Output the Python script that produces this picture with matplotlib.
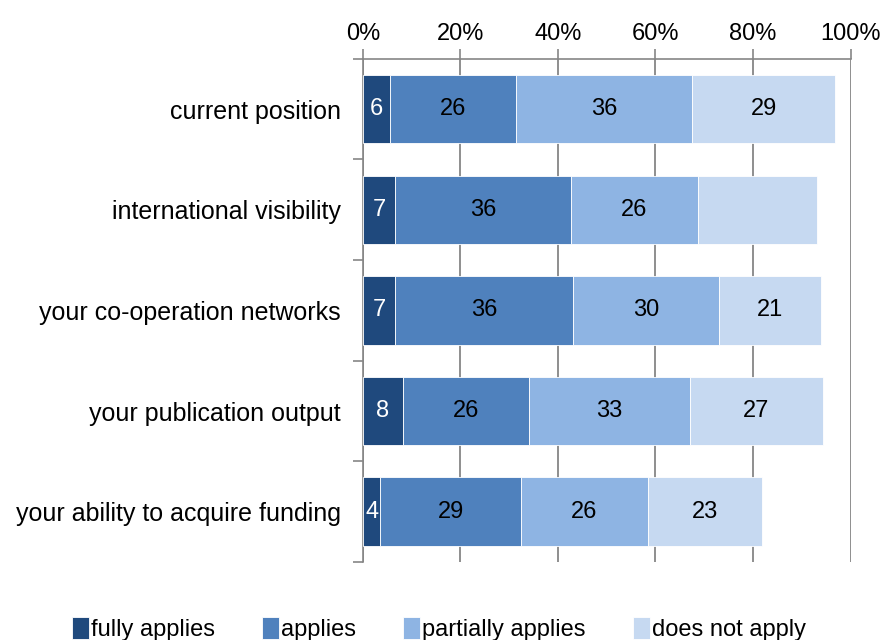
import numpy as np
import matplotlib.pyplot as plt

plt.rcParams['font.family'] = ['Liberation Sans', 'DejaVu Sans']

categories = ['current position', 'international visibility', 'your co-operation networks',
              'your publication output', 'your ability to acquire funding']
series = ['fully applies', 'applies', 'partially applies', 'does not apply']

fully = [5.6, 6.7, 6.7, 8.2, 3.6]
applies = [25.9, 35.9, 36.3, 25.9, 28.9]
partially = [36.0, 26.2, 30.1, 32.9, 25.9]
not_apply = [29.3, 24.4, 20.9, 27.4, 23.4]

# labels shown on the bars (one is blank in the original)
lab_fully = ['6', '7', '7', '8', '4']
lab_applies = ['26', '36', '36', '26', '29']
lab_partially = ['36', '26', '30', '33', '26']
lab_not_apply = ['29', '', '21', '27', '23']

colors = ['#1F497D', '#4F81BD', '#8EB4E3', '#C6D9F1']
text_colors = ['white', 'black', 'black', 'black']

fig = plt.figure(figsize=(8.87, 6.4), dpi=100)
ax = fig.add_axes([0.409, 0.122, 0.550, 0.786])

y = np.arange(len(categories))
left = np.zeros(len(categories))
data = [fully, applies, partially, not_apply]
labels = [lab_fully, lab_applies, lab_partially, lab_not_apply]
for vals, labs, c, tc, name in zip(data, labels, colors, text_colors, series):
    vals = np.array(vals)
    ax.barh(y, vals, left=left, height=0.68, color=c, edgecolor='white',
            linewidth=0.6, label=name, zorder=3)
    for yi, l, v, t in zip(y, left, vals, labs):
        if t:
            ax.text(l + v / 2, yi, t, ha='center', va='center', color=tc,
                    fontsize=17, zorder=4)
    left = left + vals

ax.set_xlim(0, 100)
ax.set_ylim(len(categories) - 0.5, -0.5)
ax.set_xticks(np.arange(0, 101, 20))
ax.set_xticklabels([f'{v}%' for v in range(0, 101, 20)])
ax.xaxis.tick_top()
ax.tick_params(axis='x', which='major', length=7, width=1.2, color='#868686',
               labelsize=17, pad=3)
ax.grid(axis='x', color='#868686', linewidth=1.3, zorder=0)

ax.set_yticks(y)
ax.set_yticklabels(categories)
ax.tick_params(axis='y', which='major', length=0, labelsize=18, pad=16)
ax.set_yticks(np.arange(-0.5, len(categories)), minor=True)
ax.tick_params(axis='y', which='minor', length=7, width=1.2, color='#868686')

for s in ['right', 'bottom']:
    ax.spines[s].set_visible(False)
for s in ['left', 'top']:
    ax.spines[s].set_color('#868686')
    ax.spines[s].set_linewidth(1.2)

fig.legend(loc='lower center', bbox_to_anchor=(0.495, -0.035), ncol=4, frameon=False,
           fontsize=17, handlelength=0.7, handleheight=1.1, handletextpad=0.1,
           columnspacing=2.0)

fig.savefig('out.png', dpi=100)
